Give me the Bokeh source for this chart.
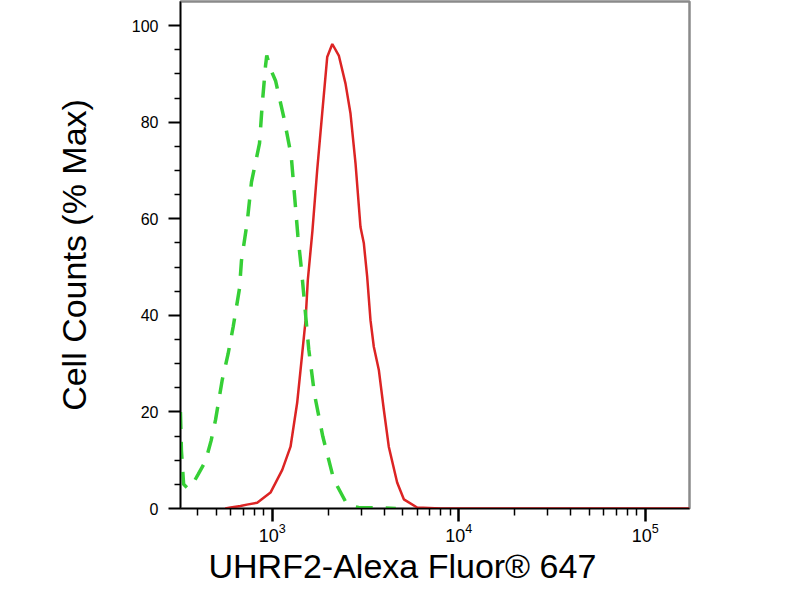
from bokeh.plotting import figure
from bokeh.models import Range1d, FixedTicker, Title
from bokeh.embed import file_html
from bokeh.resources import INLINE

# ---- data ----
green_x = [322, 326, 335, 350, 365, 400, 439, 470, 497, 540, 580, 618, 668, 684,
           735, 774, 855, 884, 921, 935, 980, 1042, 1154, 1264, 1317, 1372, 1436,
           1466, 1571, 1686, 1868, 2138, 2523, 2900, 4000, 4600]
green_y = [20, 12, 5, 4.3, 4.3, 7, 9.8, 14, 18.4, 26.7, 32, 37.7, 45.6, 51.3,
           59.4, 67.6, 75.6, 83.7, 91.7, 93.8, 91, 88.6, 81, 73.1, 64.9, 56.6, 49.4,
           45.6, 32.9, 23.6, 14.9, 6, 0.8, 0.2, 0.1, 0]

red_x = [560, 598, 676, 731, 831, 979, 1132, 1254, 1361, 1448, 1510, 1552, 1644,
         1742, 1853, 1972, 2100, 2276, 2472, 2629, 2797, 2974, 3098, 3230, 3365,
         3506, 3730, 3966, 4218, 4677, 5079, 5985, 8000, 172800]
red_y = [0, 0.2, 0.5, 0.8, 1.2, 3.3, 8, 12.8, 21.9, 32, 39, 47.3, 57.6,
         70, 81.8, 93.5, 96.2, 93.8, 88, 81.8, 71.5, 58.3, 55, 48, 39,
         33.5, 28.7, 20.5, 12.8, 5.4, 1.9, 0.2, 0, 0]

x_ticks = [1000, 10000, 100000]
x_minor_ticks = [k * 10 ** d for d in (2, 3, 4) for k in range(2, 10)]
y_ticks = [0, 20, 40, 60, 80, 100]
y_minor_ticks = [v for v in range(0, 101, 5) if v % 20 != 0]

y_label = "Cell Counts (% Max)"
x_label = "UHRF2-Alexa Fluor\u00ae 647"

FONT = "Liberation Sans"

p = figure(width=784, height=584, x_axis_type="log",
           x_range=Range1d(322.3, 172800), y_range=Range1d(0, 105),
           output_backend="svg", toolbar_location=None,
           min_border_left=180, min_border_right=95,
           min_border_top=1, min_border_bottom=75)
p.grid.visible = False
p.background_fill_color = "white"
p.border_fill_color = "white"
p.outline_line_color = "#8a8a8a"
p.outline_line_width = 2.5

# lines
p.line(red_x, red_y, line_color="#dc2424", line_width=2.5)
p.line(green_x, green_y, line_color="#36cf36", line_width=3.5, line_dash="17 13")

# y axis
ya = p.yaxis[0]
ya.ticker = FixedTicker(ticks=y_ticks, minor_ticks=y_minor_ticks)
ya.axis_line_color = "black"
ya.axis_line_width = 1.5
ya.major_tick_in = 0
ya.major_tick_out = 12
ya.minor_tick_in = 0
ya.minor_tick_out = 6
ya.major_tick_line_width = 2
ya.minor_tick_line_width = 1.5
ya.major_tick_line_color = "black"
ya.minor_tick_line_color = "black"
ya.major_label_text_font = FONT
ya.major_label_text_font_size = "16px"
ya.major_label_text_color = "black"
ya.major_label_standoff = 10
ya.axis_label = y_label
ya.axis_label_text_font = FONT
ya.axis_label_text_font_size = "34px"
ya.axis_label_text_font_style = "normal"
ya.axis_label_text_color = "black"
ya.axis_label_standoff = 36

# x axis (log tick labels 10^n drawn by the axis formatter)
xa = p.xaxis[0]
xa.ticker = FixedTicker(ticks=x_ticks, minor_ticks=x_minor_ticks)
xa.axis_line_color = "black"
xa.axis_line_width = 1.5
xa.major_tick_in = 0
xa.major_tick_out = 13
xa.minor_tick_in = 0
xa.minor_tick_out = 7
xa.major_tick_line_width = 2.5
xa.minor_tick_line_width = 1.5
xa.major_tick_line_color = "black"
xa.minor_tick_line_color = "black"
xa.major_label_text_font = FONT
xa.major_label_text_font_size = "18px"
xa.major_label_text_color = "black"
xa.major_label_standoff = 1

# x axis title, left-aligned under the frame
p.add_layout(Title(text=x_label, align="left", offset=28, standoff=0,
                   text_font=FONT, text_font_size="34px",
                   text_font_style="normal", text_color="black"), "below")

open("out.html", "w").write(file_html(p, INLINE))
